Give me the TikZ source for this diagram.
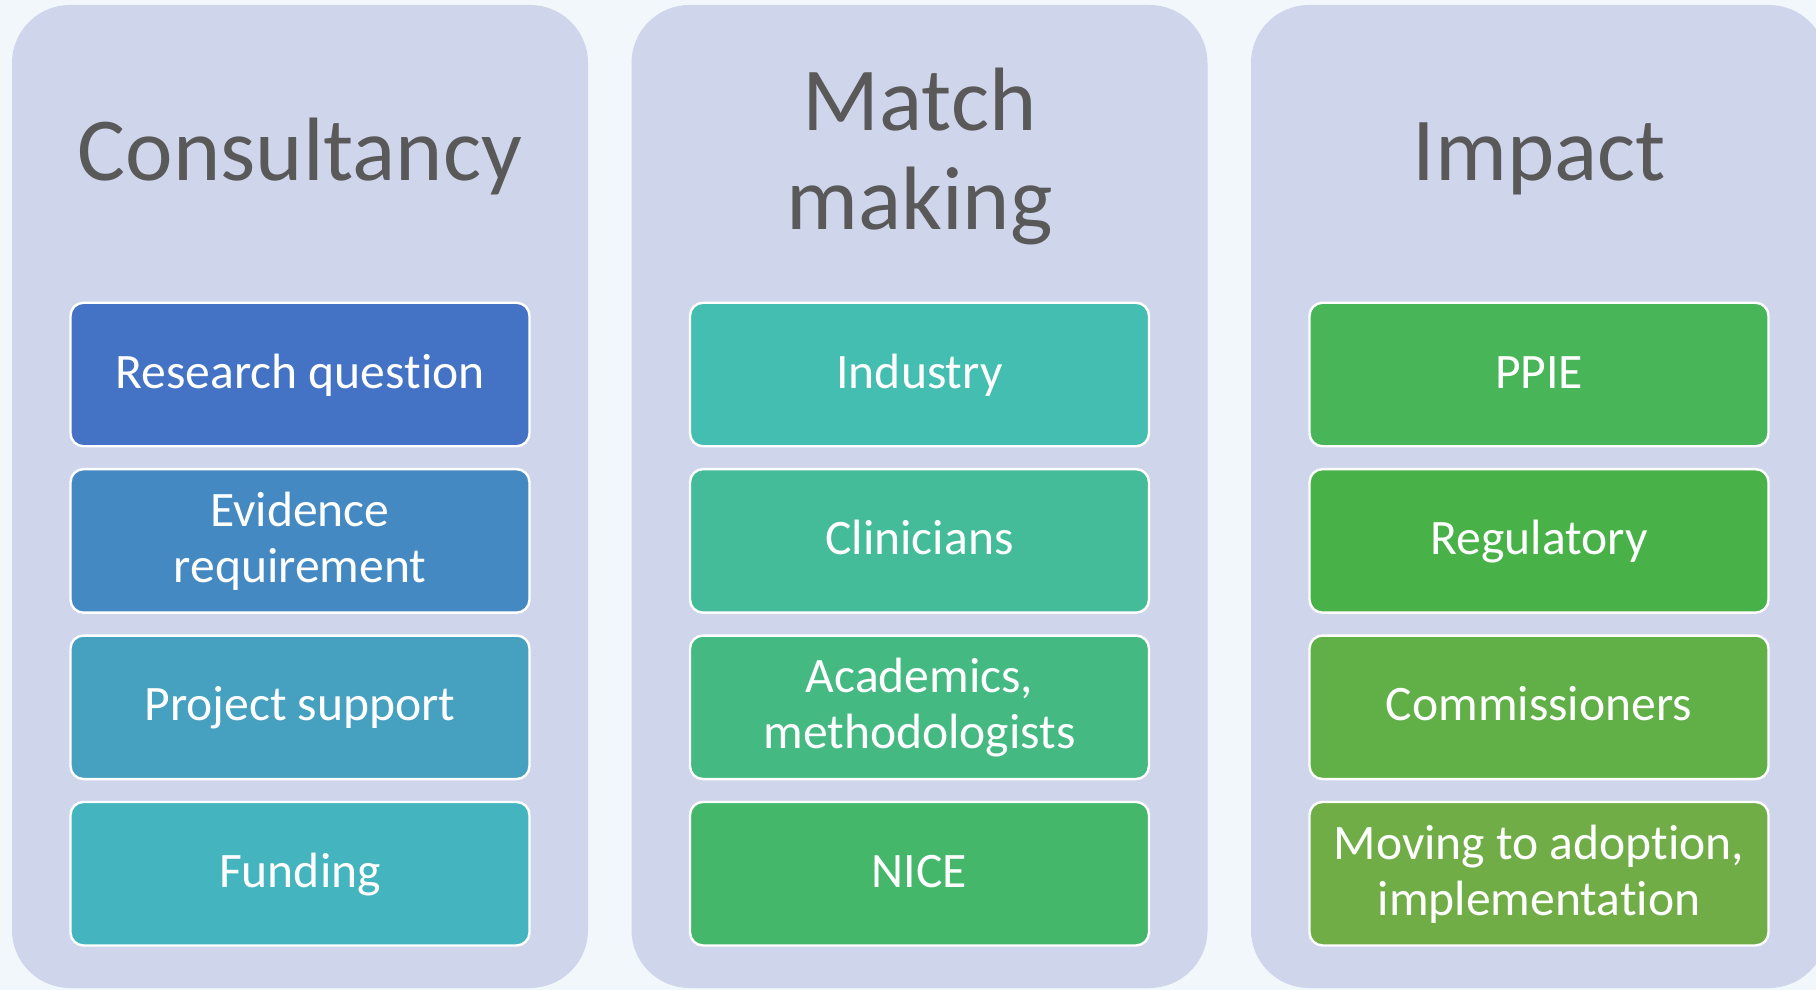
\documentclass[tikz,border=0pt]{standalone}
\usepackage{fontspec}
\setmainfont{Carlito}[RawFeature={-liga}]
\definecolor{bgc}{HTML}{F2F7FC}
\definecolor{panelc}{HTML}{CFD5EA}
\definecolor{titlec}{HTML}{595959}
\definecolor{ca}{HTML}{4472C4}
\definecolor{cb}{HTML}{4589C3}
\definecolor{cc}{HTML}{46A0C0}
\definecolor{cd}{HTML}{44B5BF}
\definecolor{ce}{HTML}{44BEB0}
\definecolor{cf}{HTML}{44BC99}
\definecolor{cg}{HTML}{44B982}
\definecolor{ch}{HTML}{45B76B}
\definecolor{ci}{HTML}{47B558}
\definecolor{cj}{HTML}{48B249}
\definecolor{ck}{HTML}{61AF47}
\definecolor{cl}{HTML}{70AD47}
\newcommand{\itemstrut}{\rule[-6.5pt]{0pt}{26.5pt}}
\newcommand{\titlestrut}{\rule[-10pt]{0pt}{46pt}}
\begin{document}
\begin{tikzpicture}[x=0.5pt,y=-0.5pt,
  panel/.style={fill=panelc, draw=none, rounded corners=29pt, minimum width=288pt, minimum height=491.5pt, inner sep=0pt},
  item/.style={draw=white, line width=1.2pt, rounded corners=6.5pt, minimum width=229.5pt, minimum height=71.75pt, inner sep=0pt, text=white, align=center, font=\fontsize{24.8}{28}\selectfont},
  ttl/.style={text=titlec, align=center, font=\fontsize{45}{49.5}\selectfont, inner sep=0pt}]
\useasboundingbox (0,0) rectangle (1816,990);
\fill[bgc] (0,0) rectangle (1816,990);
% panels
\node[panel] (p1) at (300,496.5) {};
\node[panel] (p2) at (919.5,496.5) {};
\node[panel] (p3) at (1539,496.5) {};
% titles
\node[ttl] (t1) at (300,154) {\titlestrut Consultancy};
\node[ttl] (t2) at (919.5,154) {\titlestrut Match\\\titlestrut making};
\node[ttl] (t3) at (1539,154) {\titlestrut Impact};
% column 1
\node[item, fill=ca] (a1) at (300,374.5) {\itemstrut Research question};
\node[item, fill=cb] (a2) at (300,540.9) {\itemstrut Evidence\\\itemstrut requirement};
\node[item, fill=cc] (a3) at (300,707.3) {\itemstrut Project support};
\node[item, fill=cd] (a4) at (300,873.7) {\itemstrut Funding};
% column 2
\node[item, fill=ce] (b1) at (919.5,374.5) {\itemstrut Industry};
\node[item, fill=cf] (b2) at (919.5,540.9) {\itemstrut Clinicians};
\node[item, fill=cg] (b3) at (919.5,707.3) {\itemstrut Academics,\\\itemstrut methodologists};
\node[item, fill=ch] (b4) at (919.5,873.7) {\itemstrut NICE};
% column 3
\node[item, fill=ci] (c1) at (1539,374.5) {\itemstrut PPIE};
\node[item, fill=cj] (c2) at (1539,540.9) {\itemstrut Regulatory};
\node[item, fill=ck] (c3) at (1539,707.3) {\itemstrut Commissioners};
\node[item, fill=cl] (c4) at (1539,873.7) {\itemstrut Moving to adoption,\\\itemstrut implementation};
\end{tikzpicture}
\end{document}
